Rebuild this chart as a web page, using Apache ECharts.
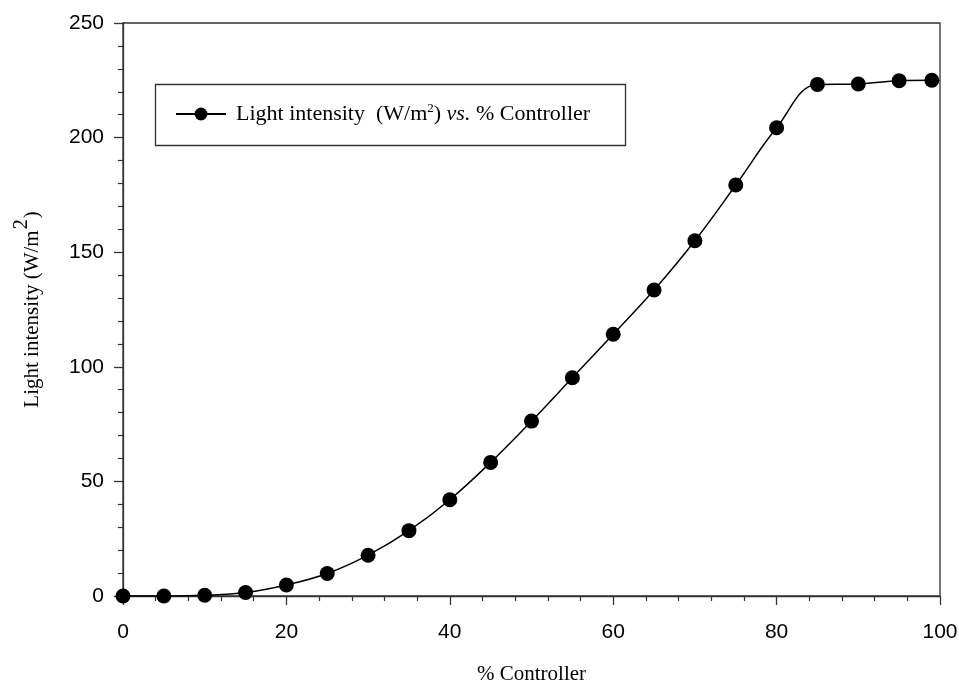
<!DOCTYPE html>
<html><head><meta charset="utf-8">
<script src="https://cdn.jsdelivr.net/npm/echarts@6/dist/echarts.min.js"></script>
<style>html,body{margin:0;padding:0;background:#fff}#c{width:959px;height:683px}</style>
</head><body><div id="c"></div>
<script>
var controller = [0,5,10,15,20,25,30,35,40,45,50,55,60,65,70,75,80,85,90,95,99];
var intensity = [0,0,0.3,1.5,4.8,9.8,17.8,28.5,42,58.3,76.3,95.2,114.2,133.5,155,179.3,204.3,223.2,223.4,224.8,225];
var xTicks = [0,20,40,60,80,100];
var yTicks = [0,50,100,150,200,250];
var data = controller.map(function(x,i){return [x,intensity[i]];});
var chart = echarts.init(document.getElementById('c'));
var serif = '"Liberation Serif","DejaVu Serif",serif';
var sans = '"Liberation Sans",Arial,sans-serif';
chart.setOption({
  animation:false,
  grid:{left:123,right:19,top:23,bottom:87,outerBoundsMode:'none',containLabel:false,show:true,borderColor:'#333',borderWidth:1.3},
  xAxis:{type:'value',min:xTicks[0],max:xTicks[xTicks.length-1],interval:20,
    name:'% Controller',nameLocation:'middle',nameGap:68,
    nameTextStyle:{fontFamily:serif,fontSize:21,color:'#000'},
    axisLine:{show:true,lineStyle:{color:'#333',width:1.3}},
    axisTick:{show:true,inside:false,length:9,lineStyle:{color:'#333',width:1.3}},
    minorTick:{show:true,splitNumber:5,length:5,lineStyle:{color:'#333',width:1.2}},
    axisLabel:{fontFamily:sans,fontSize:21,color:'#000',margin:26},
    splitLine:{show:false}},
  yAxis:{type:'value',min:yTicks[0],max:yTicks[yTicks.length-1],interval:50,
    name:'{a|Light intensity (W/m}{s|2}{a|)}',nameLocation:'middle',nameGap:80,
    nameTextStyle:{rich:{a:{fontFamily:serif,fontSize:21,color:'#000',verticalAlign:'bottom'},
      s:{fontFamily:serif,fontSize:20,color:'#000',verticalAlign:'top',padding:[0,1,11,1]}}},
    axisLine:{show:true,lineStyle:{color:'#333',width:1.3}},
    axisTick:{show:true,inside:false,length:9,lineStyle:{color:'#333',width:1.3}},
    minorTick:{show:true,splitNumber:5,length:5,lineStyle:{color:'#333',width:1.2}},
    axisLabel:{fontFamily:sans,fontSize:21,color:'#000',margin:19},
    splitLine:{show:false}},
  legend:{show:true,left:170,top:97,itemWidth:50,itemHeight:16,itemGap:10,
    data:['Light intensity'],
    formatter:function(){return '{g|}{a|Light intensity  (W/m}{s|2}{a|) }{i|vs.}{a| % Controller}';},
    textStyle:{rich:{g:{width:5},a:{fontFamily:serif,fontSize:22,color:'#000'},
      i:{fontFamily:serif,fontSize:22,fontStyle:'italic',color:'#000'},
      s:{fontFamily:serif,fontSize:13,color:'#000',padding:[0,0,11,0]}}}},
  graphic:[{type:'rect',left:153,top:82,shape:{width:470,height:61},
    style:{fill:null,stroke:'#333',lineWidth:1.3},z:0}],
  series:[{name:'Light intensity',type:'line',data:data,smooth:0.4,
    symbol:'circle',symbolSize:15,
    itemStyle:{color:'#000'},lineStyle:{color:'#000',width:1.5}}]
});
</script></body></html>
